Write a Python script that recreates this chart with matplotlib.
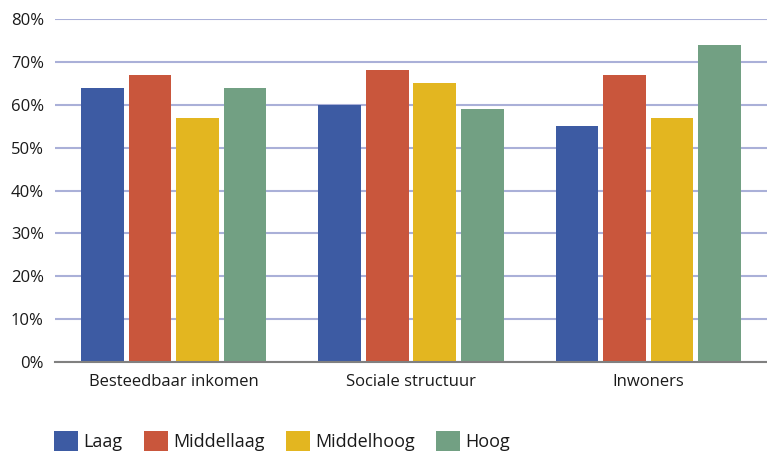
import matplotlib.pyplot as plt
import numpy as np

plt.rcParams['font.family'] = ['Open Sans', 'DejaVu Sans']

categories = ['Besteedbaar inkomen', 'Sociale structuur', 'Inwoners']
series = ['Laag', 'Middellaag', 'Middelhoog', 'Hoog']
laag = [64, 60, 55]
middellaag = [67, 68, 67]
middelhoog = [57, 65, 57]
hoog = [64, 59, 74]
colors = ['#3d5ba3', '#c9563c', '#e3b620', '#72a083']

values = [laag, middellaag, middelhoog, hoog]

fig = plt.figure(figsize=(7.67, 4.55), dpi=100)
ax = fig.add_axes([0.0717, 0.2044, 0.9283, 0.7538])

x = np.arange(len(categories))
width = 0.18
offsets = [-0.3, -0.1, 0.1, 0.3]
for vals, off, col, name in zip(values, offsets, colors, series):
    ax.bar(x + off, vals, width, color=col, label=name, zorder=3)

ax.set_xlim(-0.5, 2.5)
ax.set_ylim(0, 80)
ax.set_yticks(np.arange(0, 81, 10))
ax.set_yticklabels([f'{v}%' for v in range(0, 81, 10)])
ax.yaxis.grid(True, color='#aab0d8', linewidth=1.5, zorder=0)
ax.set_axisbelow(True)
ax.set_xticks(x)
ax.set_xticklabels(categories)
ax.tick_params(axis='both', length=0, labelsize=12, labelcolor='#1a1a1a')
ax.tick_params(axis='y', pad=8)
ax.tick_params(axis='x', pad=9)
for s in ['top', 'right', 'left']:
    ax.spines[s].set_visible(False)
ax.spines['bottom'].set_color('#808080')
ax.spines['bottom'].set_linewidth(1.5)
ax.spines['bottom'].set_zorder(4)

leg = fig.legend(loc='lower left', bbox_to_anchor=(0.049, -0.027), ncol=4, frameon=False,
                 fontsize=13, handlelength=1.33, handleheight=1.3,
                 handletextpad=0.28, columnspacing=1.2)
for t in leg.get_texts():
    t.set_color('#1a1a1a')

fig.savefig('out.png', dpi=100)
